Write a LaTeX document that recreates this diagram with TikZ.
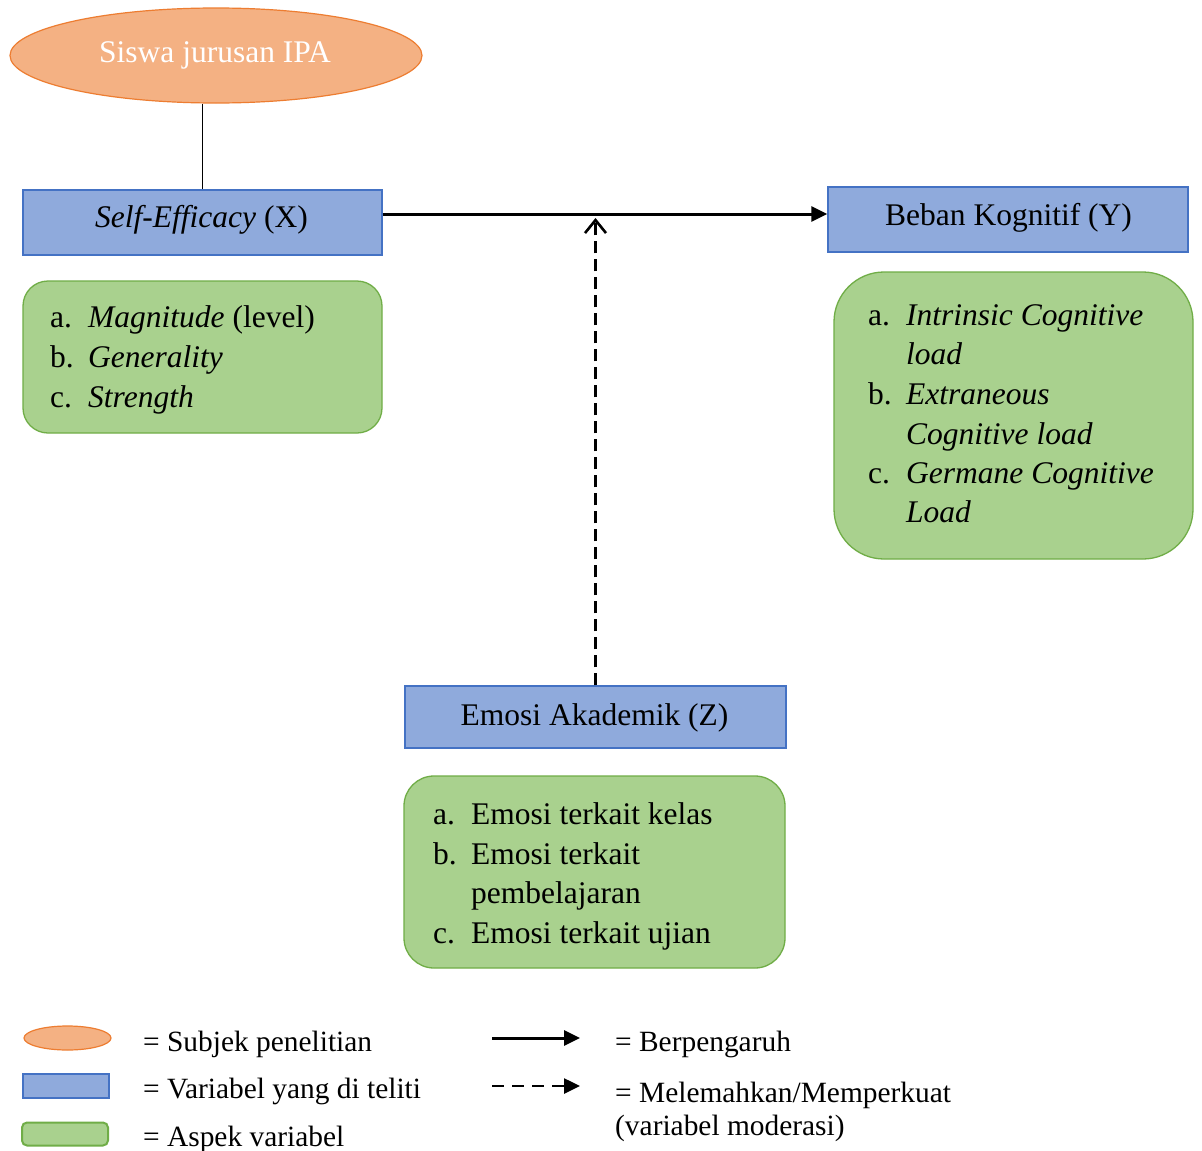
\documentclass[tikz,border=0pt]{standalone}
\usepackage{fontspec}
\setmainfont{Liberation Serif}
\usetikzlibrary{arrows.meta,shapes.geometric}
\definecolor{orfill}{HTML}{F4B183}
\definecolor{ordraw}{HTML}{ED7D31}
\definecolor{blfill}{HTML}{8FAADC}
\definecolor{bldraw}{HTML}{4472C4}
\definecolor{grfill}{HTML}{A9D18E}
\definecolor{grdraw}{HTML}{70AD47}
\tikzset{
  subj/.style={ellipse, fill=orfill, draw=ordraw, line width=1.2pt, inner sep=0pt},
  varbox/.style={rectangle, fill=blfill, draw=bldraw, line width=1.3pt, inner sep=0pt},
  aspbox/.style={rectangle, fill=grfill, draw=grdraw, line width=1.3pt, inner sep=0pt},
  txt/.style={inner sep=0pt, font=\fontsize{31.5}{38}\selectfont},
  ltxt/.style={txt, anchor=base west},
  legtxt/.style={inner sep=0pt, anchor=base west, font=\fontsize{29.4}{35}\selectfont},
  mainarrow/.style={line width=3pt, -{Triangle[length=16pt,width=15pt]}},
  modarrow/.style={line width=2.4pt, dash pattern=on 12pt off 6pt, -{Straight Barb[length=13pt,width=21pt,line width=2.6pt]}},
  legdash/.style={line width=2.6pt, dash pattern=on 12pt off 8pt, -{Triangle[length=16pt,width=15pt]}},
}
\begin{document}
\begin{tikzpicture}[x=1pt,y=-1pt]
\useasboundingbox[fill=white] (0,0) rectangle (1202,1151);

% subject ellipse
\node[subj, minimum width=412, minimum height=95] (siswa) at (216,55.5) {};
\node[txt, anchor=base, text=white] (siswat) at (215,62) {Siswa jurusan IPA};

% variable boxes
\node[varbox, minimum width=359, minimum height=65] (X) at (202.5,222.5) {};
\node[txt, anchor=base] (Xt) at (201.5,227) {\textit{Self-Efficacy} (X)};
\node[varbox, minimum width=360, minimum height=65] (Y) at (1008,219.5) {};
\node[txt, anchor=base] (Yt) at (1008.5,225) {Beban Kognitif (Y)};
\node[varbox, minimum width=381, minimum height=62] (Z) at (595.5,717) {};
\node[txt, anchor=base] (Zt) at (594.5,725) {Emosi Akademik (Z)};

% aspect boxes
\node[aspbox, rounded corners=25pt, minimum width=359, minimum height=152] (XA) at (202.5,357) {};
\node[ltxt] (xa1) at (50,327) {a.};
\node[ltxt] (xa1t) at (88,327) {\textit{Magnitude} (level)};
\node[ltxt] (xa2) at (50,367) {b.};
\node[ltxt] (xa2t) at (88,367) {\textit{Generality}};
\node[ltxt] (xa3) at (50,407) {c.};
\node[ltxt] (xa3t) at (88,407) {\textit{Strength}};

\node[aspbox, rounded corners=50pt, minimum width=359, minimum height=287] (YA) at (1013.5,415.5) {};
\node[ltxt] (ya1) at (868,325) {a.};
\node[ltxt] (ya1t) at (906,325) {\textit{Intrinsic Cognitive}};
\node[ltxt] (ya1u) at (906,364) {\textit{load}};
\node[ltxt] (ya2) at (868,404) {b.};
\node[ltxt] (ya2t) at (906,404) {\textit{Extraneous}};
\node[ltxt] (ya2u) at (906,444) {\textit{Cognitive load}};
\node[ltxt] (ya3) at (868,483) {c.};
\node[ltxt] (ya3t) at (906,483) {\textit{Germane Cognitive}};
\node[ltxt] (ya3u) at (906,522) {\textit{Load}};

\node[aspbox, rounded corners=30pt, minimum width=381, minimum height=192] (ZA) at (594.5,872) {};
\node[ltxt] (za1) at (433,824) {a.};
\node[ltxt] (za1t) at (471,824) {Emosi terkait kelas};
\node[ltxt] (za2) at (433,864) {b.};
\node[ltxt] (za2t) at (471,864) {Emosi terkait};
\node[ltxt] (za2u) at (471,903) {pembelajaran};
\node[ltxt] (za3) at (433,943) {c.};
\node[ltxt] (za3t) at (471,943) {Emosi terkait ujian};

% connectors
\draw[line width=1.3pt] (siswa.south -| X.north) -- (X.north);
\draw[mainarrow] ([yshift=8.5pt]X.east) -- ([yshift=8.5pt]X.east -| Y.west);
\coordinate (mod) at (596,218);
\draw[modarrow] (Z.north) -- (Z.north |- mod);

% legend
\node[subj, minimum width=87, minimum height=24] (l1) at (67.5,1038) {};
\node[legtxt] (l1t) at (143,1051) {= Subjek penelitian};
\node[varbox, line width=2pt, minimum width=86, minimum height=24] (l2) at (65.5,1086) {};
\node[legtxt] (l2t) at (143,1098) {= Variabel yang di teliti};
\node[aspbox, line width=2pt, rounded corners=5pt, minimum width=86, minimum height=23] (l3) at (65,1134) {};
\node[legtxt] (l3t) at (143,1146) {= Aspek variabel};

\coordinate (la) at (492,1038);
\coordinate (lb) at (580,1038);
\draw[mainarrow] (la) -- (lb);
\coordinate (lc) at (492,1086);
\coordinate (ld) at (580,1086);
\draw[legdash] (lc) -- (ld);
\node[legtxt] (l4t) at (615,1051) {= Berpengaruh};
\node[legtxt] (l5t) at (615,1102) {= Melemahkan/Memperkuat};
\node[legtxt] (l6t) at (615,1135) {(variabel moderasi)};
\end{tikzpicture}
\end{document}
